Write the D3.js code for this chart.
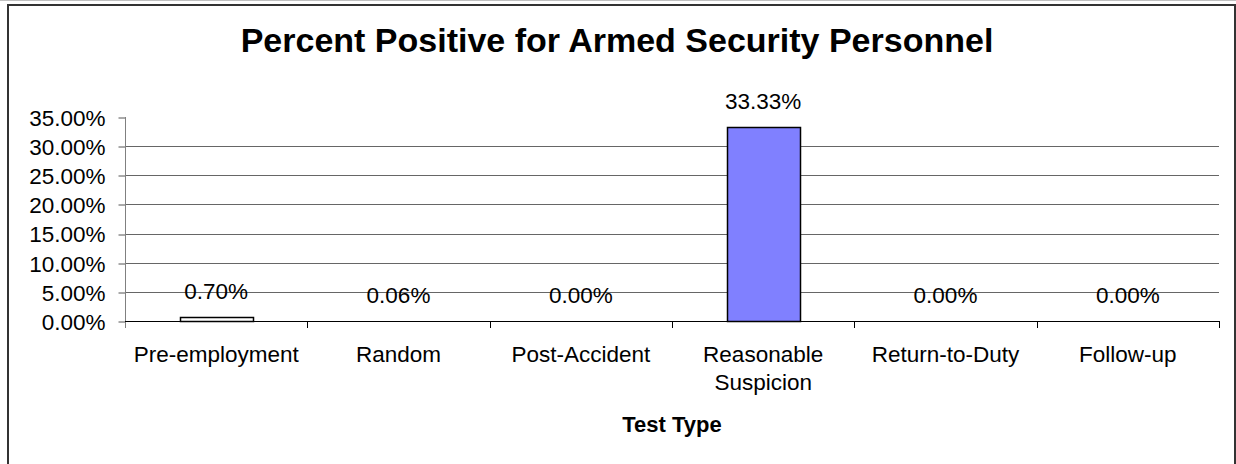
<!DOCTYPE html>
<html>
<head>
<meta charset="utf-8">
<script src="https://cdn.jsdelivr.net/npm/d3@7"></script>
<style>
  body { margin: 0; background: #fff; }
  text { font-family: "Liberation Sans", Arial, sans-serif; fill: #000; }
</style>
</head>
<body>
<svg id="chart" width="1236" height="464"></svg>
<script>
// chart data
var categories = ["Pre-employment", "Random", "Post-Accident", "Reasonable Suspicion", "Return-to-Duty", "Follow-up"];
var values = [0.70, 0.06, 0.00, 33.33, 0.00, 0.00];
var yTicks = [0, 5, 10, 15, 20, 25, 30, 35];
var fills = ["#FFFFFF", "#FFFFFF", "#FFFFFF", "#8080FF", "#FFFFFF", "#FFFFFF"];

var svg = d3.select("#chart");

// outer frame
svg.append("line")
	.attr("x1", 0).attr("x2", 1236)
	.attr("y1", 0.5).attr("y2", 0.5)
	.style("stroke", "#c0c0c0");
svg.append("rect")
	.attr("x", 8).attr("y", 5)
	.attr("width", 1227).attr("height", 470)
	.attr("fill", "#fff")
	.style("stroke", "#333")
	.style("stroke-width", 2);

var plot = {left: 125, right: 1219, top: 117, bottom: 321};

var x = d3.scaleBand()
	.domain(categories)
	.range([plot.left, plot.right])
	.padding(0);

var y = d3.scaleLinear()
	.domain([0, 35])
	.range([plot.bottom, plot.top]);

// title
svg.append("text")
	.attr("x", 617)
	.attr("y", 52)
	.attr("text-anchor", "middle")
	.style("font-size", "34px")
	.style("font-weight", "bold")
	.text("Percent Positive for Armed Security Personnel");

// gridlines (no line at top tick)
svg.append("g")
	.selectAll("line")
	.data(yTicks.filter(function(d) { return d > 0 && d < 35; }))
	.enter()
	.append("line")
	.attr("x1", plot.left)
	.attr("x2", plot.right)
	.attr("y1", function(d) { return Math.round(y(d)) + 0.5; })
	.attr("y2", function(d) { return Math.round(y(d)) + 0.5; })
	.style("stroke", "#666");

// y axis
var yAxis = svg.append("g")
	.attr("transform", "translate(" + (plot.left + 0.5) + ",0.5)")
	.call(d3.axisLeft(y)
		.tickValues(yTicks)
		.tickSize(7)
		.tickPadding(13)
		.tickFormat(function(d) { return d3.format(".2f")(d) + "%"; }));
yAxis.select(".domain").remove();
yAxis.selectAll(".tick line")
	.attr("transform", function(d) { return "translate(0," + (Math.round(y(d)) - y(d)) + ")"; })
	.style("stroke", "#555");
yAxis.selectAll(".tick text")
	.style("font-size", "22.5px")
	.style("font-family", "'Liberation Sans', Arial, sans-serif")
	.attr("dy", "0.35em");
svg.append("line")
	.attr("x1", plot.left + 0.5).attr("x2", plot.left + 0.5)
	.attr("y1", plot.top).attr("y2", plot.bottom + 7)
	.style("stroke", "#808080");

// bars
var barW = x.bandwidth() * 0.4;
svg.append("g")
	.selectAll("rect")
	.data(values)
	.enter()
	.append("rect")
	.attr("x", function(d, i) { return Math.round(x(categories[i]) + (x.bandwidth() - barW) / 2) + 0.5; })
	.attr("y", function(d) { return Math.round(y(d)) + 0.5; })
	.attr("width", Math.round(barW))
	.attr("height", function(d) { return Math.round(plot.bottom - y(d)); })
	.attr("fill", function(d, i) { return fills[i]; })
	.style("stroke", "#000")
	.style("stroke-width", function(d) { return d > 0.1 ? 1.5 : 0; });

// value labels
svg.append("g")
	.selectAll("text")
	.data(values)
	.enter()
	.append("text")
	.attr("x", function(d, i) { return x(categories[i]) + x.bandwidth() / 2; })
	.attr("y", function(d) { return Math.min(y(d) - 18, 303); })
	.attr("text-anchor", "middle")
	.style("font-size", "22.5px")
	.text(function(d) { return d3.format(".2f")(d) + "%"; });

// x axis line and ticks
svg.append("line")
	.attr("x1", plot.left).attr("x2", plot.right + 0.5)
	.attr("y1", plot.bottom + 0.5).attr("y2", plot.bottom + 0.5)
	.style("stroke", "#000");
var bounds = categories.slice(1).map(function(c) { return x(c); }).concat([plot.right]);
svg.append("g")
	.selectAll("line")
	.data(bounds)
	.enter()
	.append("line")
	.attr("x1", function(d) { return Math.round(d) + 0.5; })
	.attr("x2", function(d) { return Math.round(d) + 0.5; })
	.attr("y1", plot.bottom)
	.attr("y2", plot.bottom + 7)
	.style("stroke", "#000");

// category labels, wrapped like the original
var catLabels = svg.append("g")
	.selectAll("text")
	.data(categories)
	.enter()
	.append("text")
	.attr("x", function(d) { return x(d) + x.bandwidth() / 2; })
	.attr("y", 362)
	.attr("text-anchor", "middle")
	.style("font-size", "22.5px");
catLabels.each(function(d) {
	var lines = d === "Reasonable Suspicion" ? ["Reasonable", "Suspicion"] : [d];
	var t = d3.select(this);
	lines.forEach(function(l, i) {
		t.append("tspan")
			.attr("x", x(d) + x.bandwidth() / 2)
			.attr("dy", i === 0 ? 0 : 28)
			.text(l);
	});
});

// axis title
svg.append("text")
	.attr("x", (plot.left + plot.right) / 2)
	.attr("y", 432)
	.attr("text-anchor", "middle")
	.style("font-size", "22px")
	.style("font-weight", "bold")
	.text("Test Type");
</script>
</body>
</html>
